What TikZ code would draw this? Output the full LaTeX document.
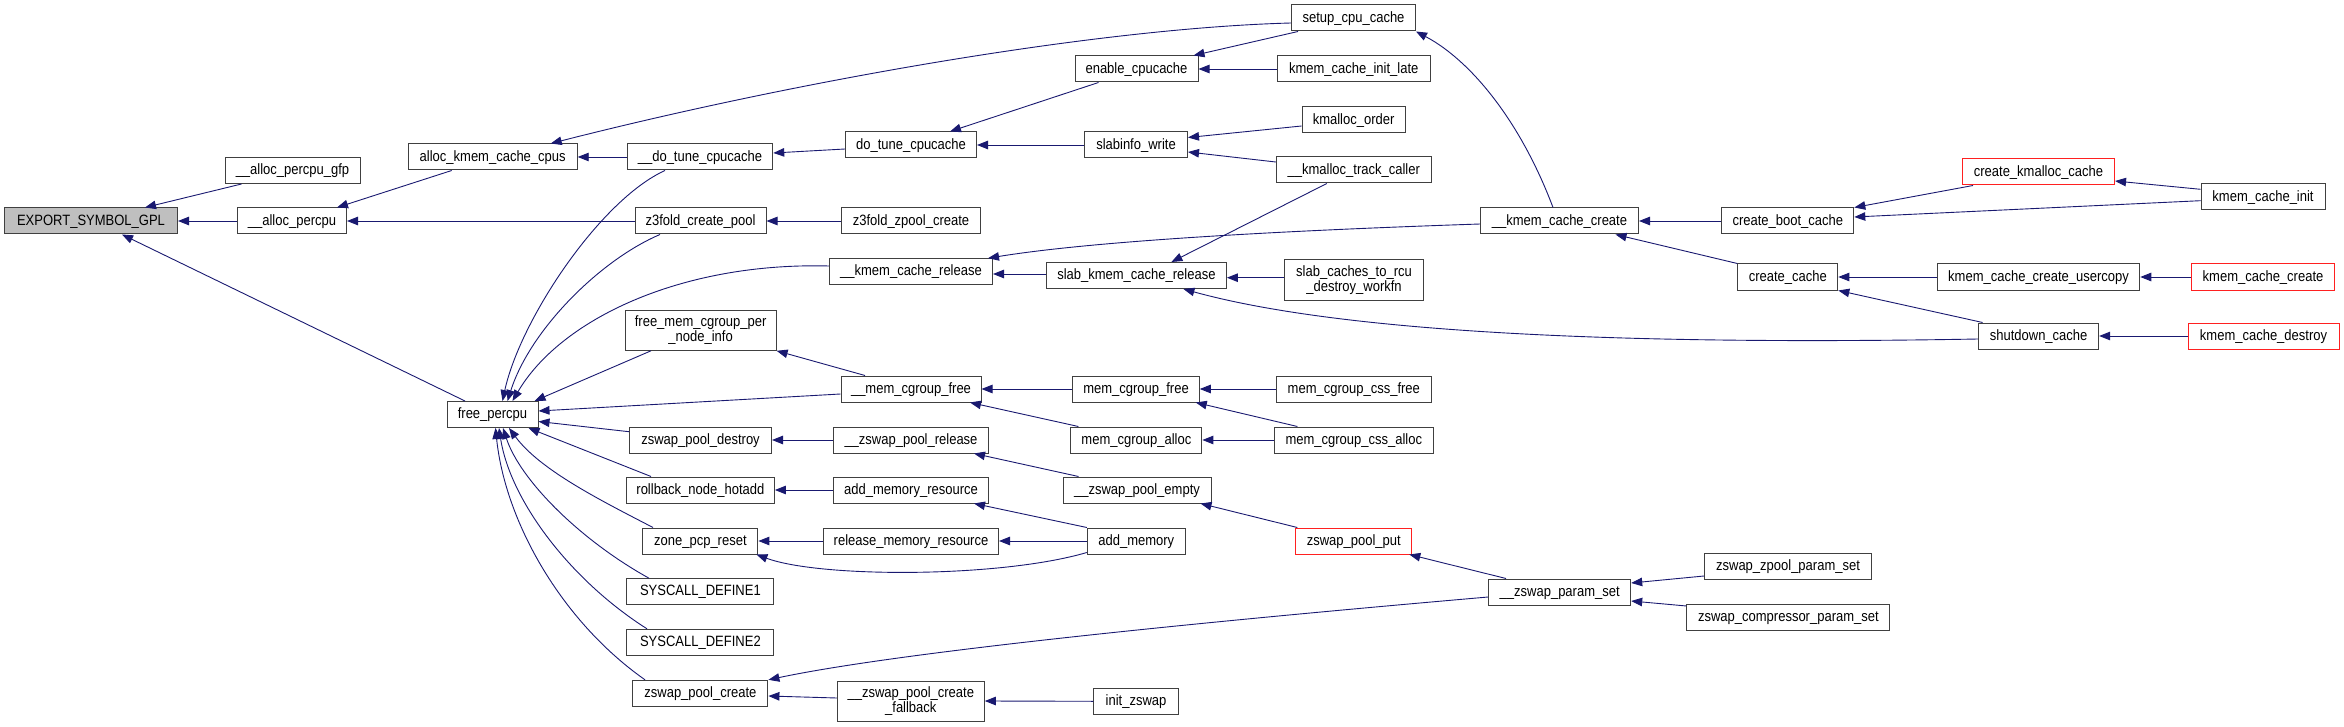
\documentclass[tikz,border=0pt]{standalone}
\usepackage{fontspec}
\setmainfont{Liberation Sans}
\usepackage{graphicx}
\usetikzlibrary{arrows.meta,calc}
\definecolor{edgec}{HTML}{191970}
\definecolor{boxc}{HTML}{404040}
\definecolor{redc}{HTML}{FF2020}
\definecolor{grayf}{HTML}{BFBFBF}
\newcommand\tx[1]{\scalebox{1}[1.15]{#1}}
\tikzset{
 box/.style={draw=boxc, line width=1pt, rectangle, inner sep=0pt, minimum height=26pt, font=\fontsize{13}{14.5}\selectfont, text height=10.7pt, text depth=2.6pt},
 box2/.style={draw=boxc, line width=1pt, rectangle, inner sep=0pt, minimum height=40pt, font=\fontsize{13}{14.5}\selectfont, align=center},
 redbox/.style={box, draw=redc},
 edge/.style={draw=edgec, line width=0.9pt, -{Triangle[length=11pt,width=8.5pt]}},
}
\begin{document}
\begin{tikzpicture}[x=1pt,y=-1pt]
\useasboundingbox (0,0) rectangle (2344,727);
% column 0
\node[box, minimum width=173pt, fill=grayf] (exp) at (91,221) {\tx{EXPORT\_SYMBOL\_GPL}};
% column 1
\node[box, minimum width=135pt] (gfp) at (292.5,170.5) {\tx{\_\_alloc\_percpu\_gfp}};
\node[box, minimum width=109pt] (apc) at (292,221) {\tx{\_\_alloc\_percpu}};
% column 2
\node[box, minimum width=169pt] (akc) at (492.7,157) {\tx{alloc\_kmem\_cache\_cpus}};
\node[box, minimum width=91pt] (fpc) at (492.5,414.5) {\tx{free\_percpu}};
% column 3
\node[box, minimum width=145.5pt] (dtc) at (700,157) {\tx{\_\_do\_tune\_cpucache}};
\node[box, minimum width=131pt] (z3c) at (700.5,221) {\tx{z3fold\_create\_pool}};
\node[box2, minimum width=151pt] (fmc) at (700.6,330.3) {\tx{free\_mem\_cgroup\_per}\\\tx{\_node\_info}};
\node[box, minimum width=142pt] (zpd) at (700.5,440) {\tx{zswap\_pool\_destroy}};
\node[box, minimum width=148pt] (rnh) at (700.4,490) {\tx{rollback\_node\_hotadd}};
\node[box, minimum width=115pt] (zpcp) at (700.4,541) {\tx{zone\_pcp\_reset}};
\node[box, minimum width=147pt] (sd1) at (700.4,591.7) {\tx{SYSCALL\_DEFINE1}};
\node[box, minimum width=147pt] (sd2) at (700.4,642.3) {\tx{SYSCALL\_DEFINE2}};
\node[box, minimum width=135pt] (zpc) at (700.4,693.3) {\tx{zswap\_pool\_create}};
% column 4
\node[box, minimum width=131pt] (tc) at (911,145) {\tx{do\_tune\_cpucache}};
\node[box, minimum width=139pt] (z3z) at (911,221) {\tx{z3fold\_zpool\_create}};
\node[box, minimum width=163pt] (kcr) at (911,271.7) {\tx{\_\_kmem\_cache\_release}};
\node[box, minimum width=140pt] (mcfu) at (911,389) {\tx{\_\_mem\_cgroup\_free}};
\node[box, minimum width=155pt] (zpr) at (911,440) {\tx{\_\_zswap\_pool\_release}};
\node[box, minimum width=155pt] (amr) at (911,490) {\tx{add\_memory\_resource}};
\node[box, minimum width=175pt] (rmr) at (911,541) {\tx{release\_memory\_resource}};
\node[box2, minimum width=147pt] (zpcf) at (910.8,701) {\tx{\_\_zswap\_pool\_create}\\\tx{\_fallback}};
% column 5
\node[box, minimum width=123pt] (ecc) at (1136.5,69) {\tx{enable\_cpucache}};
\node[box, minimum width=103pt] (siw) at (1136,145) {\tx{slabinfo\_write}};
\node[box, minimum width=180pt] (skr) at (1136.4,275.5) {\tx{slab\_kmem\_cache\_release}};
\node[box, minimum width=126.5pt] (mcf) at (1136,389) {\tx{mem\_cgroup\_free}};
\node[box, minimum width=131pt] (mca) at (1136.4,440) {\tx{mem\_cgroup\_alloc}};
\node[box, minimum width=148pt] (zpe) at (1137,490) {\tx{\_\_zswap\_pool\_empty}};
\node[box, minimum width=98pt] (am) at (1136.3,541) {\tx{add\_memory}};
\node[box, minimum width=84.5pt] (iz) at (1136,701.3) {\tx{init\_zswap}};
% column 6
\node[box, minimum width=124pt] (scc) at (1353.5,18) {\tx{setup\_cpu\_cache}};
\node[box, minimum width=153pt] (kcil) at (1353.7,69) {\tx{kmem\_cache\_init\_late}};
\node[box, minimum width=103pt] (kmo) at (1353.6,120) {\tx{kmalloc\_order}};
\node[box, minimum width=155pt] (ktc) at (1353.8,170) {\tx{\_\_kmalloc\_track\_caller}};
\node[box2, minimum width=139pt] (scr) at (1354,280) {\tx{slab\_caches\_to\_rcu}\\\tx{\_destroy\_workfn}};
\node[box, minimum width=155pt] (mcsf) at (1353.8,389) {\tx{mem\_cgroup\_css\_free}};
\node[box, minimum width=159pt] (mcsa) at (1353.8,440) {\tx{mem\_cgroup\_css\_alloc}};
\node[redbox, minimum width=116pt] (zpp) at (1353.8,541) {\tx{zswap\_pool\_put}};
% column 7
\node[box, minimum width=158pt] (kcc) at (1559.5,221) {\tx{\_\_kmem\_cache\_create}};
\node[box, minimum width=142pt] (zps) at (1559.7,592) {\tx{\_\_zswap\_param\_set}};
% column 8
\node[box, minimum width=132pt] (cbc) at (1787.8,221) {\tx{create\_boot\_cache}};
\node[box, minimum width=100pt] (cc) at (1787.8,277) {\tx{create\_cache}};
\node[box, minimum width=167pt] (zzp) at (1788,566.5) {\tx{zswap\_zpool\_param\_set}};
\node[box, minimum width=203pt] (zcp) at (1788.4,617.5) {\tx{zswap\_compressor\_param\_set}};
% column 9
\node[redbox, minimum width=152pt] (ckc) at (2038.5,172) {\tx{create\_kmalloc\_cache}};
\node[box, minimum width=202.5pt] (kccu) at (2038.5,277) {\tx{kmem\_cache\_create\_usercopy}};
\node[box, minimum width=120pt] (sdc) at (2038.6,336) {\tx{shutdown\_cache}};
% column 10
\node[box, minimum width=124pt] (kci) at (2263,197) {\tx{kmem\_cache\_init}};
\node[redbox, minimum width=143pt] (kcrt) at (2263,277) {\tx{kmem\_cache\_create}};
\node[redbox, minimum width=151pt] (kcd) at (2263.5,336) {\tx{kmem\_cache\_destroy}};

% edges
\draw[edge] ($(gfp.south)+(-51,0)$) -- ($(exp.north)+(54,0)$);
\draw[edge] (apc.west) -- (exp.east);
\draw[edge] ($(fpc.north)+(-27.5,0)$) -- ($(exp.south)+(31,0)$);
\draw[edge] ($(akc.south)+(-41,0)$) -- ($(apc.north)+(45,0)$);
\draw[edge] (z3c.west) -- (apc.east);
\draw[edge] (z3z.west) -- (z3c.east);
\draw[edge] (dtc.west) -- (akc.east);
\draw[edge] ($(scc.west)+(0,5)$) .. controls (1100,28) and (800,80) .. ($(akc.north)+(58,0)$);
\draw[edge] ($(tc.west)+(0,4)$) -- ($(dtc.east)+(0,-4)$);
\draw[edge] ($(ecc.south)+(-38,0)$) -- ($(tc.north)+(39,0)$);
\draw[edge] (siw.west) -- (tc.east);
\draw[edge] ($(scc.south)+(-55.5,0)$) -- ($(ecc.north)+(57,0)$);
\draw[edge] (kcil.west) -- (ecc.east);
\draw[edge] ($(kmo.west)+(0,6)$) -- ($(siw.east)+(0,-7.5)$);
\draw[edge] ($(ktc.west)+(0,-8)$) -- ($(siw.east)+(0,7)$);
\draw[edge] ($(kcc.north)+(-6.5,0)$) .. controls (1520,120) and (1470,60) .. (scc.south east);
\draw[edge] ($(ktc.south)+(-27,0)$) -- ($(skr.north)+(35,0)$);
\draw[edge] ($(kcc.west)+(0,3)$) .. controls (1300,230) and (1100,240) .. ($(kcr.north east)+(-5,0)$);
\draw[edge] ($(skr.west)+(0,-1.5)$) -- ($(kcr.east)+(0,2.3)$);
\draw[edge] ($(scr.west)+(0,-2.3)$) -- ($(skr.east)+(0,2.2)$);
\draw[edge] ($(sdc.west)+(0,3)$) .. controls (1650,345) and (1350,335) .. ($(skr.south)+(47,0)$);
\draw[edge] (cbc.west) -- (kcc.east);
\draw[edge] (cc.north west) -- ($(kcc.south)+(56,0)$);
\draw[edge] ($(ckc.south west)+(11,0)$) -- (cbc.north east);
\draw[edge] ($(kci.west)+(0,3.7)$) -- ($(cbc.east)+(0,-4)$);
\draw[edge] ($(kci.west)+(0,-7.7)$) -- ($(ckc.east)+(0,9)$);
\draw[edge] (kccu.west) -- (cc.east);
\draw[edge] ($(sdc.north west)+(4.5,0)$) -- (cc.south east);
\draw[edge] (kcrt.west) -- (kccu.east);
\draw[edge] (kcd.west) -- (sdc.east);
% into free_percpu
\draw[edge] ($(dtc.south)+(-35,0)$) .. controls (600,200) and (520,320) .. ($(fpc.north)+(10,0)$);
\draw[edge] ($(z3c.south)+(-40.5,0)$) .. controls (600,260) and (530,330) .. ($(fpc.north)+(15,0)$);
\draw[edge] ($(kcr.west)+(0,-5.7)$) .. controls (680,262) and (560,320) .. ($(fpc.north)+(20,0)$);
\draw[edge] ($(fmc.south)+(-49.6,0)$) -- ($(fpc.north east)+(-4,0)$);
\draw[edge] ($(mcfu.west)+(0,5)$) -- ($(fpc.east)+(0,-3.5)$);
\draw[edge] ($(zpd.west)+(0,-8.3)$) -- ($(fpc.east)+(0,7)$);
\draw[edge] ($(rnh.north)+(-49.4,0)$) -- ($(fpc.south east)+(-10,0)$);
\draw[edge] ($(zpcp.north)+(-47.4,0)$) .. controls (600,500) and (540,470) .. ($(fpc.south)+(16.5,0)$);
\draw[edge] ($(sd1.north)+(-51.4,0)$) .. controls (580,540) and (520,480) .. ($(fpc.south)+(10.5,0)$);
\draw[edge] ($(sd2.north)+(-53.4,0)$) .. controls (570,580) and (510,500) .. ($(fpc.south)+(6.5,0)$);
\draw[edge] ($(zpc.north)+(-55.4,0)$) .. controls (560,620) and (505,520) .. ($(fpc.south)+(3,0)$);
% middle
\draw[edge] ($(mcfu.north)+(-46,0)$) -- (fmc.south east);
\draw[edge] (mcf.west) -- (mcfu.east);
\draw[edge] ($(mca.north west)+(8,0)$) -- ($(mcfu.south)+(59,0)$);
\draw[edge] (mcsf.west) -- (mcf.east);
\draw[edge] ($(mcsa.north west)+(23.6,0)$) -- ($(mcf.south east)+(-4,0)$);
\draw[edge] (mcsa.west) -- (mca.east);
\draw[edge] (zpr.west) -- (zpd.east);
\draw[edge] ($(zpe.north west)+(16,0)$) -- ($(zpr.south)+(63,0)$);
\draw[edge] (amr.west) -- (rnh.east);
\draw[edge] (am.north west) -- ($(amr.south)+(63,0)$);
\draw[edge] (rmr.west) -- (zpcp.east);
\draw[edge] (am.west) -- (rmr.east);
\draw[edge] ($(am.south west)+(0,-2)$) .. controls (1000,578) and (820,578) .. ($(zpcp.south east)+(-2,0)$);
\draw[edge] ($(zpp.north west)+(2,0)$) -- ($(zpe.south east)+(-11,0)$);
\draw[edge] ($(zps.north)+(-53.7,0)$) -- ($(zpp.south east)+(-3,0)$);
\draw[edge] ($(zps.west)+(0,5)$) .. controls (1200,622) and (900,652) .. (zpc.north east);
\draw[edge] ($(zpcf.west)+(0,-3)$) -- ($(zpc.east)+(0,2.7)$);
\draw[edge] (iz.west) -- (zpcf.east);
\draw[edge] ($(zzp.west)+(0,9.5)$) -- ($(zps.east)+(0,-9)$);
\draw[edge] ($(zcp.west)+(0,-11.5)$) -- ($(zps.east)+(0,9)$);
\end{tikzpicture}
\end{document}
